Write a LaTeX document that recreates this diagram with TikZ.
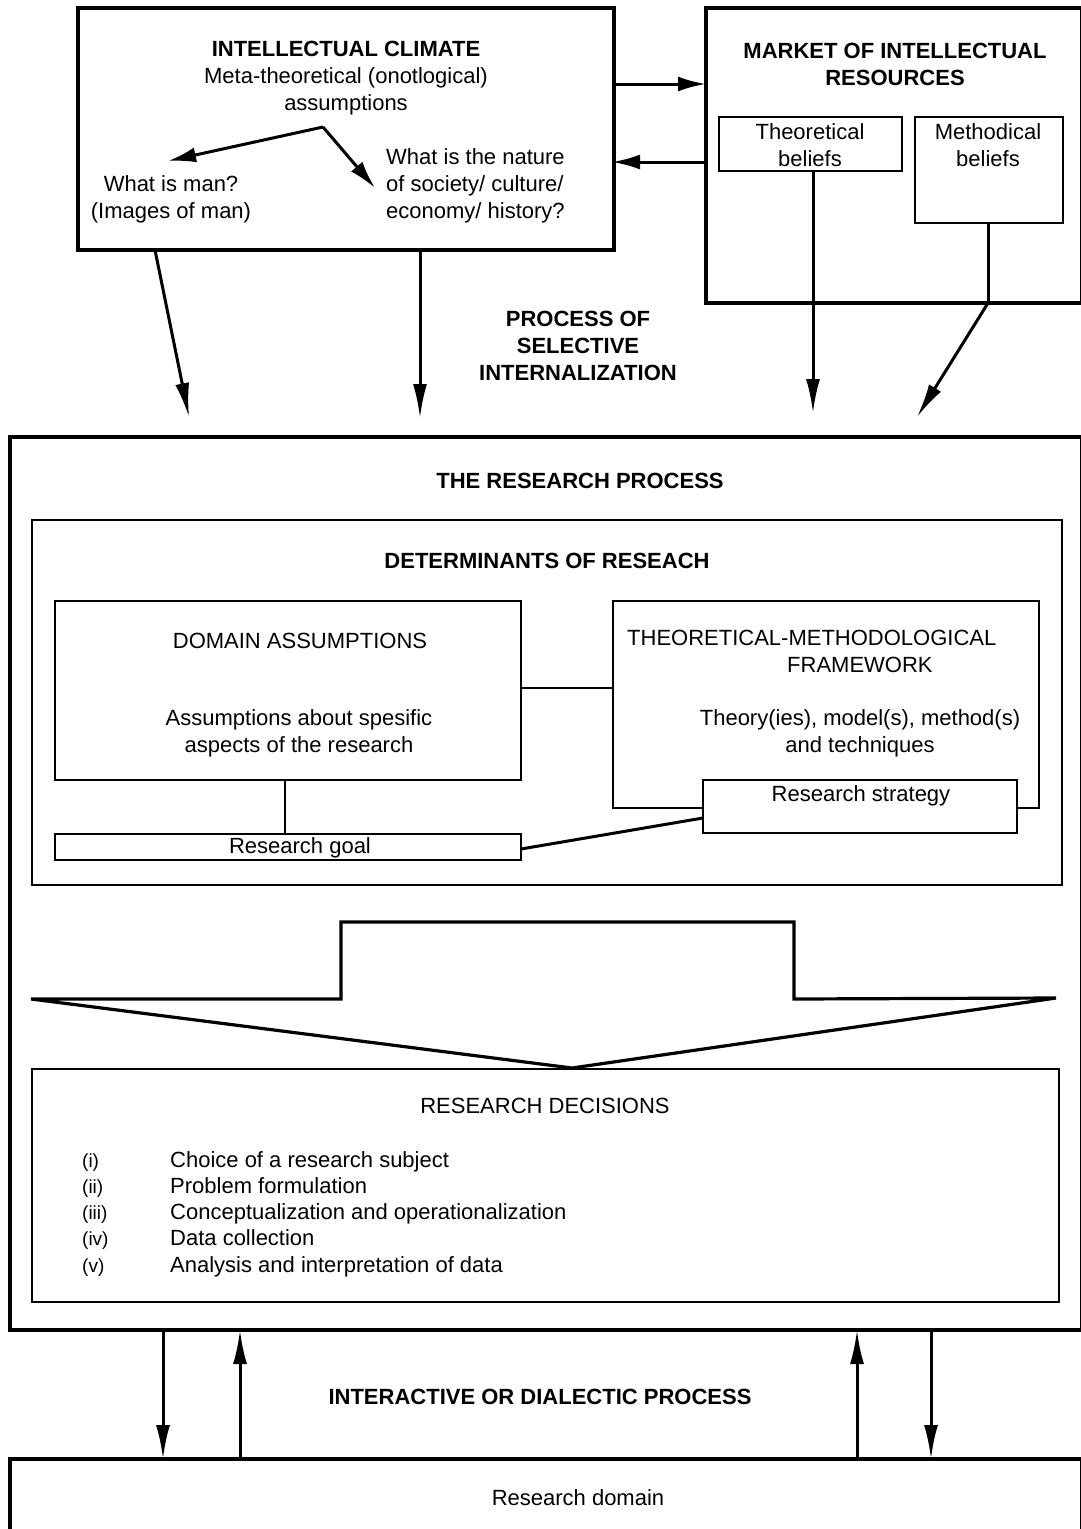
\documentclass[tikz,border=0pt]{standalone}
\usepackage{fontspec}
\setmainfont{Liberation Sans}
\usetikzlibrary{arrows.meta}
\newcommand{\fz}{\fontsize{22pt}{27pt}\selectfont}
\newcommand{\fzs}{\fontsize{19pt}{26pt}\selectfont}
\begin{document}
\begin{tikzpicture}[x=1pt,y=-1pt,
  thickbox/.style={draw, line width=3.2pt, inner sep=0pt, outer sep=0pt, anchor=north west},
  thinbox/.style={draw, line width=1.8pt, inner sep=0pt, outer sep=0pt, anchor=north west, fill=white},
  lbl/.style={font=\fz, align=center, inner sep=0pt},
  arr/.style={line width=3pt, -{Latex[length=34pt,width=14pt]}},
  arrs/.style={line width=3pt, -{Latex[length=28pt,width=15pt]}},
  plain/.style={line width=2.4pt}]
\useasboundingbox (0,0) rectangle (1080,1529);
\fill[white] (0,0) rectangle (1080,1529);

% ---------- top boxes ----------
\node[thickbox, minimum width=536pt, minimum height=242pt] (ic) at (78,8) {};
\node[thickbox, minimum width=376pt, minimum height=295pt] (mk) at (706,8) {};
\node[thinbox, minimum width=183pt, minimum height=54pt] (theo) at (719,117) {};
\node[thinbox, minimum width=148pt, minimum height=106pt] (meth) at (915,117) {};

\node[lbl] (icT) at (346,78) {\textbf{INTELLECTUAL CLIMATE}\\Meta-theoretical (onotlogical)\\assumptions};
\node[lbl] (man) at (171,199) {What is man?\\(Images of man)};
\node[lbl, align=left, anchor=west] (soc) at (386,186) {What is the nature\\of society/ culture/\\economy/ history?};
\node[lbl] (mkT) at (895,64) {\textbf{MARKET OF INTELLECTUAL}\\\textbf{RESOURCES}};
\node[lbl] (theoT) at (810,145) {Theoretical\\beliefs};
\node[lbl] (methT) at (988,145) {Methodical\\beliefs};

\coordinate (split) at (323,127);
\coordinate (manTip) at (168,161);
\coordinate (socTip) at (375,188);
\draw[arrs] (split) -- (manTip);
\draw[arrs] (split) -- (socTip);

\draw[arrs] (ic.east |- 0,84) -- (mk.west |- 0,84);
\draw[arrs] (mk.west |- 0,162) -- (612,162);

% ---------- selective internalization ----------
\node[lbl] (proc) at (578,346) {\textbf{PROCESS OF}\\\textbf{SELECTIVE}\\\textbf{INTERNALIZATION}};

\coordinate (t1) at (189,417);
\coordinate (t2) at (420,418);
\coordinate (t3) at (813,413);
\coordinate (t4) at (917,417);
\coordinate (mbend) at (988,303);
\draw[arr] (ic.south -| 155,0) -- (t1);
\draw[arr] (ic.south -| 420,0) -- (t2);
\draw[arr] (theo.south -| 813,0) -- (t3);
\draw[line width=3pt] (meth.south -| 988,0) -- (mbend);
\draw[arr] (mbend) -- (t4);

% ---------- research process ----------
\node[thickbox, minimum width=1072pt, minimum height=893pt] (rp) at (10,437) {};
\node[lbl] (rpT) at (580,481) {\textbf{THE RESEARCH PROCESS}};

\node[thinbox, minimum width=1030pt, minimum height=365pt] (det) at (32,520) {};
\node[lbl] (detT) at (547,561) {\textbf{DETERMINANTS OF RESEACH}};

\node[thinbox, minimum width=466pt, minimum height=179pt] (dom) at (55,601) {};
\node[lbl] (domT) at (300,641) {DOMAIN ASSUMPTIONS};
\node[lbl] (domS) at (299,733) {Assumptions about spesific\\aspects of the research};

\node[thinbox, minimum width=426pt, minimum height=207pt] (tm) at (613,601) {};
\node[lbl, align=left, anchor=north west] (tmT) at (627,630) {THEORETICAL-METHODOLOGICAL\\\hspace*{160pt}FRAMEWORK};
\node[lbl] (tmS) at (860,733) {Theory(ies), model(s), method(s)\\and techniques};

\node[thinbox, minimum width=314pt, minimum height=53pt] (strat) at (703,780) {};
\node[lbl] (stratT) at (861,796) {Research strategy};

\node[thinbox, minimum width=466pt, minimum height=26pt] (goal) at (55,834) {};
\node[lbl] (goalT) at (300,848) {Research goal};

\draw[plain] (dom.east |- 0,688) -- (tm.west |- 0,688);
\draw[plain] (dom.south -| 285,0) -- (goal.north -| 285,0);
\draw[line width=3pt] (goal.east |- 0,849) -- (strat.west |- 0,818);

% ---------- big arrow ----------
\draw[line width=3.2pt, line join=miter] (31,999) -- (341,999) -- (341,922) -- (794,922) -- (794,999) -- (1056,998) -- (572,1068) -- cycle;

% ---------- research decisions ----------
\node[thinbox, minimum width=1027pt, minimum height=233pt] (rd) at (32,1069) {};
\node[lbl] (rdT) at (545,1106) {RESEARCH DECISIONS};
\foreach \n/\t [count=\i] in {(i)/Choice of a research subject, (ii)/Problem formulation, (iii)/Conceptualization and operationalization, (iv)/Data collection, (v)/Analysis and interpretation of data}{
  \node[inner sep=0pt, anchor=base west, font=\fzs] (num\i) at (82,1140.75+26.25*\i) {\n};
  \node[inner sep=0pt, anchor=base west, font=\fz] (item\i) at (170,1140.75+26.25*\i) {\t};
}

% ---------- interactive process ----------
\node[thickbox, minimum width=1072pt, minimum height=90pt] (dm) at (10,1459) {};
\node[lbl] (dmT) at (578,1498) {Research domain};
\node[lbl] (inter) at (540,1397) {\textbf{INTERACTIVE OR DIALECTIC PROCESS}};

\draw[arr] (rp.south -| 163,0) -- (dm.north -| 163,0);
\draw[arr] (dm.north -| 240,0) -- (rp.south -| 240,0);
\draw[arr] (dm.north -| 857,0) -- (rp.south -| 857,0);
\draw[arr] (rp.south -| 931,0) -- (dm.north -| 931,0);
\end{tikzpicture}
\end{document}
